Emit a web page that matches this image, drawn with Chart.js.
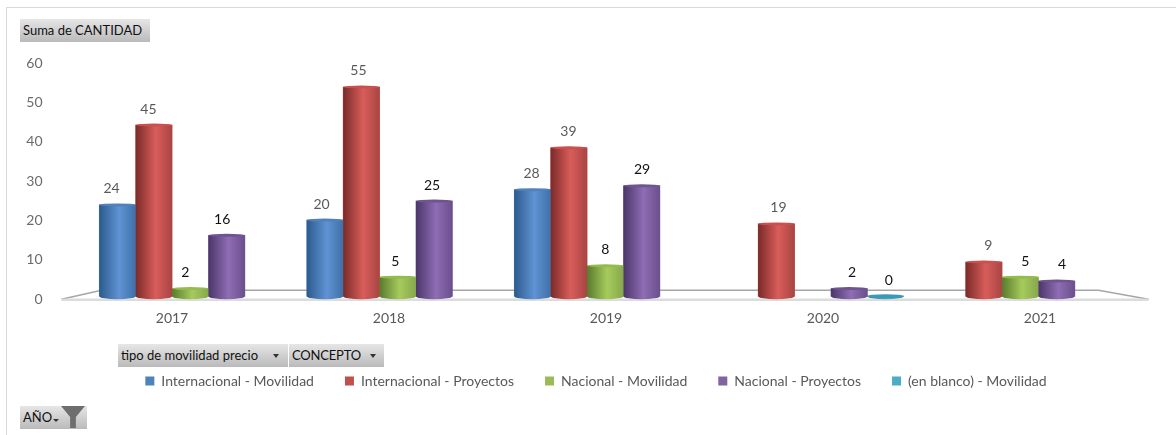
<!DOCTYPE html>
<html>
<head>
<meta charset="utf-8">
<title>Suma de CANTIDAD</title>
<script src="https://cdn.jsdelivr.net/npm/chart.js@4/dist/chart.umd.min.js"></script>
<style>
html, body { margin: 0; padding: 0; background: #fff; }
#wrap { position: relative; width: 1176px; height: 435px; overflow: hidden; font-family: Lato, sans-serif; }
#frame { position: absolute; left: 6px; top: 7px; width: 1200px; height: 440px; border: 1.5px solid #d9d9d9; box-sizing: border-box; }
canvas { position: absolute; left: 0; top: 0; }
.chip { position: absolute; height: 23px; line-height: 23px; background: linear-gradient(#e6e6e6, #bababa); color: #111; font-size: 13px; white-space: nowrap; box-sizing: border-box; padding-left: 3px; }
.arrow { position: absolute; top: 10px; width: 0; height: 0; border-left: 3px solid transparent; border-right: 3px solid transparent; border-top: 4px solid #333; }
.funnel { position: absolute; left: 41px; top: 0; width: 24px; height: 22px; background: #6e6e6e; clip-path: polygon(0 0, 100% 0, 62% 50%, 62% 100%, 38% 100%, 38% 50%); }
</style>
</head>
<body>
<div id="wrap">
  <div id="frame"></div>
  <canvas id="chart" width="1176" height="435"></canvas>
  <div class="chip" style="left:20px;top:19px;width:130px">Suma de CANTIDAD</div>
  <div class="chip" style="left:118px;top:344px;width:170px">tipo de movilidad precio<span class="arrow" style="left:155px"></span></div>
  <div class="chip" style="left:289px;top:344px;width:95px;letter-spacing:-0.2px">CONCEPTO<span class="arrow" style="left:81px"></span></div>
  <div class="chip" style="left:20px;top:406px;width:67px">AÑO<span class="arrow" style="left:33px;top:13px;border-top-width:3px"></span><span class="funnel"></span></div>
</div>
<script>
const years = ['2017', '2018', '2019', '2020', '2021'];
const yTicks = [0, 10, 20, 30, 40, 50, 60];

const seriesNames = ['Internacional - Movilidad', 'Internacional - Proyectos', 'Nacional - Movilidad', 'Nacional - Proyectos', '(en blanco) - Movilidad'];
const intMovilidad = [24, 20, 28, null, null];
const intProyectos = [45, 55, 39, 19, 9];
const nacMovilidad = [2, 5, 8, null, 5];
const nacProyectos = [16, 25, 29, 2, 4];
const blancoMovilidad = [null, null, null, 0, null];

const flatColors = ['#4f81bd', '#c0504d', '#9bbb59', '#8064a2', '#4bacc6'];
// dark edge, light middle, right edge, top cap
const shades = [
    ['#2c5a8c', '#5f93d4', '#3f70a8', '#4f81bd'],
    ['#7a2b29', '#d95d5a', '#a84543', '#c9504e'],
    ['#5a7a2c', '#a6cb5c', '#86a84c', '#93bb50'],
    ['#4b3669', '#8f6db5', '#6a4f8c', '#6f5590'],
    ['#2a8199', '#4bacc6', '#2f8ea8', '#3a9ab5']
];
const labelColors = ['#595959', '#595959', '#111111', '#111111', '#111111'];

const allSeries = [intMovilidad, intProyectos, nacMovilidad, nacProyectos, blancoMovilidad];

// cylinder look, floor and value labels on top of the library's bars
const cylinders = {
    id: 'cylinders',
    afterLayout(chart) {
        // legend is centred a bit right of the canvas
        chart.legend.left += 11.75;
        chart.legend.right += 11.75;
    },
    beforeDatasetsDraw(chart) {
        const { ctx, chartArea, scales } = chart;
        const front = scales.y.getPixelForValue(0);
        const back = front - 9;
        ctx.save();
        ctx.strokeStyle = '#a6a6a6';
        ctx.lineWidth = 1.5;
        ctx.beginPath();
        ctx.moveTo(chartArea.left - 2, front);
        ctx.lineTo(chartArea.left + 38, back);
        ctx.lineTo(chartArea.right - 50, back);
        ctx.lineTo(chartArea.right, front);
        ctx.stroke();
        ctx.strokeStyle = '#dcdcdc';
        ctx.lineWidth = 2.5;
        ctx.beginPath();
        ctx.moveTo(chartArea.left - 2, front + 0.5);
        ctx.lineTo(chartArea.right, front + 0.5);
        ctx.stroke();
        ctx.restore();
    },
    afterDatasetsDraw(chart) {
        const { ctx } = chart;
        const mid = (chart.chartArea.left + chart.chartArea.right) / 2;
        chart.data.datasets.forEach((ds, d) => {
            const meta = chart.getDatasetMeta(d);
            meta.data.forEach((bar, i) => {
                if (allSeries[d][i] === null) return;
                const p = bar.getProps(['x', 'y', 'base', 'width'], true);
                const l = p.x - p.width / 2, r = p.x + p.width / 2, ry = 3;
                const g = ctx.createLinearGradient(l, 0, r, 0);
                g.addColorStop(0, shades[d][0]);
                g.addColorStop(0.55, shades[d][1]);
                g.addColorStop(1, shades[d][2]);
                ctx.save();
                ctx.fillStyle = g;
                ctx.beginPath();
                ctx.moveTo(l, p.y);
                ctx.lineTo(l, p.base);
                ctx.ellipse(p.x, p.base, p.width / 2, ry, 0, Math.PI, 0, true);
                ctx.lineTo(r, p.y);
                ctx.closePath();
                ctx.fill();
                ctx.fillStyle = shades[d][3];
                ctx.beginPath();
                ctx.ellipse(p.x, p.y, p.width / 2, allSeries[d][i] === 0 ? 2 : 1.5, 0, 0, Math.PI * 2);
                ctx.fill();
                ctx.fillStyle = labelColors[d];
                ctx.font = '14px Lato';
                ctx.textAlign = 'center';
                ctx.textBaseline = 'middle';
                ctx.fillText(String(allSeries[d][i]), p.x + (p.x - mid) * 0.012, p.y - 16);
                ctx.restore();
            });
        });
    }
};

new Chart(document.getElementById('chart'), {
    type: 'bar',
    plugins: [cylinders],
    data: {
        labels: years,
        datasets: seriesNames.map((name, d) => ({
            label: name,
            data: allSeries[d].map((v, i) => ({ x: i, y: v })),
            backgroundColor: flatColors[d],
            xAxisID: 'xBars',
            yAxisID: 'yBars',
            barThickness: 36.4
        }))
    },
    options: {
        responsive: false,
        animation: false,
        layout: { padding: { left: 20, right: 27.5, top: 63, bottom: 37 } },
        plugins: {
            tooltip: { enabled: false },
            legend: {
                position: 'bottom',
                labels: {
                    boxWidth: 9,
                    boxHeight: 9,
                    padding: 31,
                    color: '#595959',
                    font: { family: 'Lato', size: 14 }
                }
            }
        },
        scales: {
            x: {
                type: 'category',
                offset: true,
                grid: { display: false },
                border: { display: false },
                afterFit(scale) { scale.height += 13; },
                ticks: { color: '#595959', font: { family: 'Lato', size: 14 }, padding: 3, maxRotation: 0 }
            },
            y: {
                min: yTicks[0],
                max: yTicks[yTicks.length - 1],
                afterFit(scale) { scale.width = 43.5; },
                grid: { display: false },
                border: { display: false },
                ticks: { stepSize: yTicks[1] - yTicks[0], color: '#6b6b6b', font: { family: 'Lato', size: 14 }, padding: 13 }
            },
            // the bars sit further back on the floor than the tick labels
            xBars: { type: 'linear', display: false, offset: false, min: -0.611, max: 4.618 },
            yBars: { type: 'linear', display: false, min: -0.79, max: 61.3 }
        }
    }
});
</script>
</body>
</html>
